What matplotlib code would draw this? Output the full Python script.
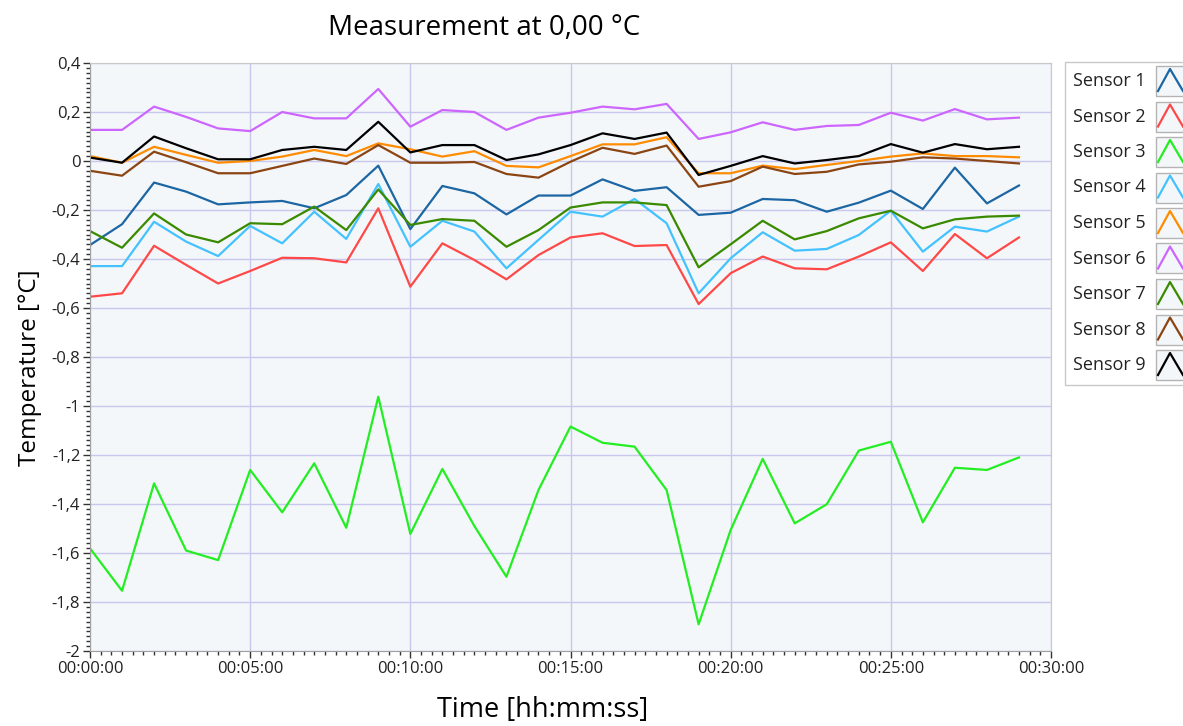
import numpy as np
import matplotlib
matplotlib.use("Agg")
import matplotlib.pyplot as plt
from matplotlib.ticker import MultipleLocator, FuncFormatter
from matplotlib.patches import Rectangle
from matplotlib.lines import Line2D

plt.rcParams["font.family"] = ["Open Sans", "DejaVu Sans"]

W, H = 1183, 726

# time in minutes (one sample per minute)
minutes = list(range(30))

sensor1 = [-0.343, -0.258, -0.088, -0.125, -0.177, -0.169, -0.163, -0.193, -0.139, -0.019,
           -0.278, -0.102, -0.132, -0.218, -0.141, -0.141, -0.075, -0.122, -0.107, -0.220,
           -0.211, -0.155, -0.160, -0.207, -0.170, -0.121, -0.196, -0.027, -0.173, -0.100]
sensor2 = [-0.554, -0.540, -0.346, -0.424, -0.500, -0.449, -0.395, -0.397, -0.414, -0.193,
           -0.513, -0.336, -0.404, -0.483, -0.384, -0.312, -0.295, -0.347, -0.343, -0.584,
           -0.458, -0.390, -0.438, -0.442, -0.390, -0.332, -0.449, -0.298, -0.397, -0.312]
sensor3 = [-1.581, -1.754, -1.316, -1.590, -1.629, -1.261, -1.434, -1.234, -1.497, -0.962,
           -1.522, -1.257, -1.490, -1.697, -1.343, -1.084, -1.150, -1.166, -1.343, -1.891,
           -1.506, -1.216, -1.479, -1.401, -1.182, -1.146, -1.475, -1.252, -1.261, -1.210]
sensor4 = [-0.429, -0.429, -0.248, -0.329, -0.388, -0.265, -0.336, -0.207, -0.318, -0.094,
           -0.350, -0.244, -0.288, -0.438, -0.322, -0.207, -0.227, -0.155, -0.254, -0.540,
           -0.397, -0.291, -0.366, -0.359, -0.302, -0.203, -0.370, -0.268, -0.288, -0.227]
sensor5 = [0.020, -0.007, 0.058, 0.025, -0.007, 0.000, 0.018, 0.045, 0.020, 0.072,
           0.048, 0.018, 0.040, -0.020, -0.026, 0.020, 0.068, 0.068, 0.097, -0.050,
           -0.050, -0.019, -0.033, -0.016, 0.000, 0.018, 0.031, 0.020, 0.020, 0.015]
sensor6 = [0.127, 0.127, 0.222, 0.180, 0.133, 0.122, 0.200, 0.174, 0.174, 0.294,
           0.140, 0.208, 0.200, 0.127, 0.177, 0.197, 0.222, 0.211, 0.233, 0.090,
           0.117, 0.158, 0.127, 0.143, 0.147, 0.197, 0.165, 0.212, 0.170, 0.177]
sensor7 = [-0.286, -0.354, -0.214, -0.300, -0.332, -0.254, -0.258, -0.186, -0.282, -0.116,
           -0.261, -0.237, -0.244, -0.350, -0.282, -0.190, -0.169, -0.169, -0.180, -0.434,
           -0.340, -0.244, -0.320, -0.286, -0.234, -0.203, -0.275, -0.238, -0.227, -0.223]
sensor8 = [-0.040, -0.060, 0.038, -0.005, -0.050, -0.050, -0.020, 0.010, -0.012, 0.065,
           -0.007, -0.007, -0.004, -0.053, -0.068, -0.003, 0.054, 0.029, 0.063, -0.105,
           -0.082, -0.023, -0.053, -0.044, -0.014, -0.003, 0.015, 0.010, 0.000, -0.010]
sensor9 = [0.014, -0.007, 0.100, 0.052, 0.007, 0.007, 0.045, 0.058, 0.045, 0.160,
           0.035, 0.065, 0.065, 0.004, 0.027, 0.065, 0.113, 0.090, 0.116, -0.057,
           -0.020, 0.020, -0.010, 0.004, 0.020, 0.069, 0.034, 0.069, 0.048, 0.058]

series = [sensor1, sensor2, sensor3, sensor4, sensor5, sensor6, sensor7, sensor8, sensor9]
names = ["Sensor %d" % (i + 1) for i in range(9)]
colors = ["#1c66a3", "#ff4848", "#22ee22", "#44c2ff", "#ff8c00",
          "#cc66ff", "#3a8a00", "#8b4513", "#000000"]

fig = plt.figure(figsize=(W / 100, H / 100), dpi=100)
ax = fig.add_axes([90 / W, 1 - 651 / H, 961 / W, 588 / H])
ax.set_facecolor("#f4f7f9")

for s, c in zip(series, colors):
    ax.plot(minutes, s, color=c, lw=1.6)

ax.set_xlim(0, 30)
ax.set_ylim(-2, 0.4)
ax.xaxis.set_major_locator(MultipleLocator(5))
ax.xaxis.set_minor_locator(MultipleLocator(1 / 3))
ax.yaxis.set_major_locator(MultipleLocator(0.2))
ax.yaxis.set_minor_locator(MultipleLocator(0.02))
ax.xaxis.set_major_formatter(FuncFormatter(lambda v, p: "00:%02d:00" % round(v)))


def yfmt(v, p):
    v = round(v, 1)
    if abs(v) < 1e-9:
        return "0"
    s = ("%.1f" % v).replace(".", ",")
    if s.endswith(",0"):
        s = s[:-2]
    return s


ax.yaxis.set_major_formatter(FuncFormatter(yfmt))
ax.grid(True, which="major", color="#c8c8ee", lw=1)
ax.set_axisbelow(True)
ax.tick_params(which="major", length=5, width=1, color="#333333", labelsize=12, pad=2,
               labelcolor="#222222")
ax.tick_params(which="minor", length=3, width=1, color="#333333")
for sp in ax.spines.values():
    sp.set_color("#c8c8c8")
ax.spines["left"].set_color("#a0a0a0")
ax.spines["bottom"].set_color("#a0a0a0")

fig.text(484 / W, 1 - 28 / H, "Measurement at 0,00 °C", ha="center", va="center", fontsize=20)
fig.text(30 / W, 1 - 368 / H, "Temperature [°C]", ha="center", va="center", rotation=90, fontsize=17.5)
fig.text(543 / W, 1 - 710 / H, "Time [hh:mm:ss]", ha="center", va="center", fontsize=19.5)

# legend drawn by hand (partly cut off at the right edge, as in the original)
fig.patches.append(Rectangle((1065 / W, 1 - 385 / H), 200 / W, 323 / H, transform=fig.transFigure,
                             fc="white", ec="#c8c8c8", lw=1))
for i, (n, c) in enumerate(zip(names, colors)):
    yc = 81 + i * 35.5
    fig.text(1073 / W, 1 - yc / H, n, ha="left", va="center", fontsize=13, color="#222222")
    fig.patches.append(Rectangle((1156 / W, 1 - (yc + 15) / H), 60 / W, 30 / H,
                                 transform=fig.transFigure, fc="#f4f7f9", ec="#b4b4b4", lw=1))
    fig.lines.append(Line2D([1158 / W, 1170 / W, 1183 / W],
                            [1 - (yc + 10) / H, 1 - (yc - 12) / H, 1 - (yc + 10) / H],
                            transform=fig.transFigure, color=c, lw=1.6))

fig.savefig("out.png", dpi=100)
